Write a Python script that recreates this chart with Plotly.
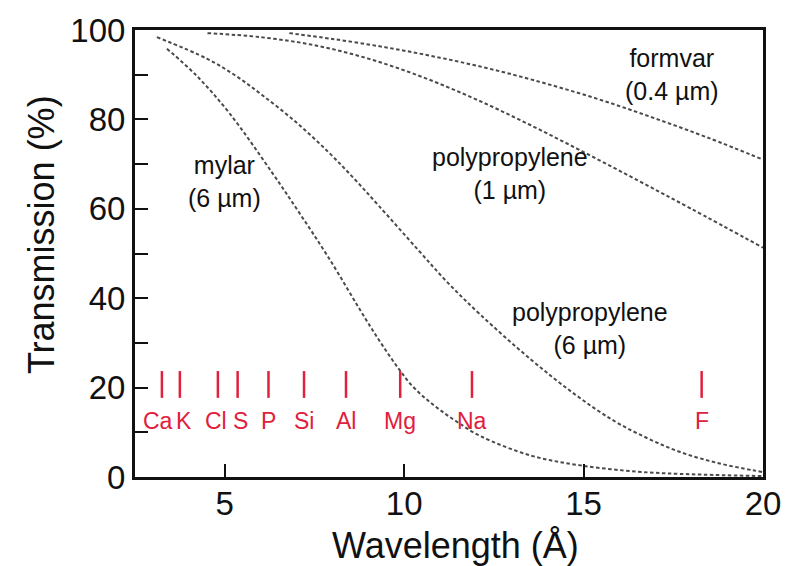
import plotly.graph_objects as go

# Transmission curves of window films (wavelength in Å, transmission in %)
mylar_x = [3.39, 4.2, 5.13, 6.32, 7.07, 7.9, 8.93, 9.4, 9.84, 10.2, 10.59, 11.0, 11.5,
           12.14, 13.53, 14.91, 16.5, 17.68, 20.0]
mylar_y = [95.8, 89.9, 81.4, 68.1, 59.2, 49.0, 35.3, 29.4, 24.3, 20.6, 17.6, 15.0, 12.2,
           9.1, 4.8, 2.6, 1.2, 0.7, 0.2]

pp6_x = [3.11, 4.5, 5.3, 6.05, 7.0, 7.9, 8.6, 9.29, 10.39, 11.2, 12.14, 13.53, 14.74,
         15.84, 16.8, 17.69, 18.7, 19.72, 20.0]
pp6_y = [98.4, 93.6, 89.8, 85.4, 79.3, 72.6, 66.8, 60.7, 50.8, 43.6, 36.2, 26.3, 18.6,
         12.6, 8.6, 5.6, 3.2, 1.5, 1.1]

pp1_x = [4.52, 6.0, 7.5, 9.0, 10.5, 12.0, 13.5, 15.0, 16.5, 18.0, 20.0]
pp1_y = [99.3, 98.4, 96.6, 93.6, 89.5, 84.5, 78.8, 72.7, 66.4, 60.0, 51.3]

formvar_x = [6.8, 8.0, 9.5, 11.0, 12.5, 14.0, 15.5, 17.0, 18.5, 20.0]
formvar_y = [99.3, 98.0, 96.1, 93.8, 91.1, 87.9, 84.3, 80.2, 75.8, 71.0]

# Kα line positions of elements (Å)
elements = ["Ca", "K", "Cl", "S", "P", "Si", "Al", "Mg", "Na", "F"]
element_wl = [3.25, 3.75, 4.81, 5.36, 6.22, 7.21, 8.38, 9.89, 11.89, 18.29]
element_shift = [-4, 4, -2, 3, 0, 0, 0, 0, 0, 0]

# Curve labels: (text, x, y)
curve_labels = [
    ("mylar<br>(6 µm)", 5.0, 66.0),
    ("polypropylene<br>(1 µm)", 12.94, 68.0),
    ("formvar<br>(0.4 µm)", 17.46, 90.0),
    ("polypropylene<br>(6 µm)", 15.19, 33.2),
]

FONT = "Liberation Sans, Arial, Helvetica, sans-serif"
RED = "#e0203c"
DASH = dict(color="#4a4a4a", width=2, dash="3.5px,2.5px", shape="spline", smoothing=1.0)

fig = go.Figure()
for xs, ys in [(mylar_x, mylar_y), (pp6_x, pp6_y), (pp1_x, pp1_y), (formvar_x, formvar_y)]:
    fig.add_trace(go.Scatter(x=xs, y=ys, mode="lines", line=DASH, hoverinfo="skip", showlegend=False))

# Element marker ticks
tick_x, tick_y = [], []
for wl in element_wl:
    tick_x += [wl, wl, None]
    tick_y += [17.7, 23.7, None]
fig.add_trace(go.Scatter(x=tick_x, y=tick_y, mode="lines",
                         line=dict(color=RED, width=2.5), hoverinfo="skip", showlegend=False))

annotations = []
for name, wl, dx in zip(elements, element_wl, element_shift):
    annotations.append(dict(x=wl, y=12.6, text=name, showarrow=False, xshift=dx,
                            font=dict(family=FONT, size=23, color=RED),
                            xanchor="center", yanchor="middle"))

for label, lx, ly in curve_labels:
    annotations.append(dict(x=lx, y=ly, text=label, showarrow=False,
                            font=dict(family=FONT, size=25, color="#111"),
                            xanchor="center", yanchor="middle"))

# Axis titles
annotations.append(dict(xref="paper", yref="paper", x=0.51, y=-0.153, text="Wavelength (Å)",
                        showarrow=False, font=dict(family=FONT, size=36, color="#111"),
                        xanchor="center", yanchor="middle"))
annotations.append(dict(xref="paper", yref="paper", x=-0.15, y=0.543, text="Transmission (%)",
                        showarrow=False, textangle=-90, font=dict(family=FONT, size=36, color="#111"),
                        xanchor="center", yanchor="middle"))

fig.update_layout(
    width=800, height=566,
    margin=dict(l=135, r=37, t=26, b=89),
    paper_bgcolor="white", plot_bgcolor="white",
    font=dict(family=FONT, size=33, color="#111"),
    annotations=annotations,
    xaxis=dict(range=[2.5, 20], tickvals=[5, 10, 15, 20], ticks="inside", ticklen=13, tickwidth=2,
               tickcolor="#111", showline=True, linecolor="#111", linewidth=3, mirror=True,
               showgrid=False, zeroline=False, tickfont=dict(size=33), ticklabelstandoff=-5),
    yaxis=dict(range=[0, 100], tickvals=[0, 20, 40, 60, 80, 100], ticks="inside", ticklen=13,
               tickwidth=2, tickcolor="#111", showline=True, linecolor="#111", linewidth=3,
               mirror=True, showgrid=False, zeroline=False, tickfont=dict(size=33),
               minor=dict(tickvals=[10, 30, 50, 70, 90], ticks="inside", ticklen=13,
                          tickwidth=2, tickcolor="#111", showgrid=False)),
)

fig.write_html("out.html")
